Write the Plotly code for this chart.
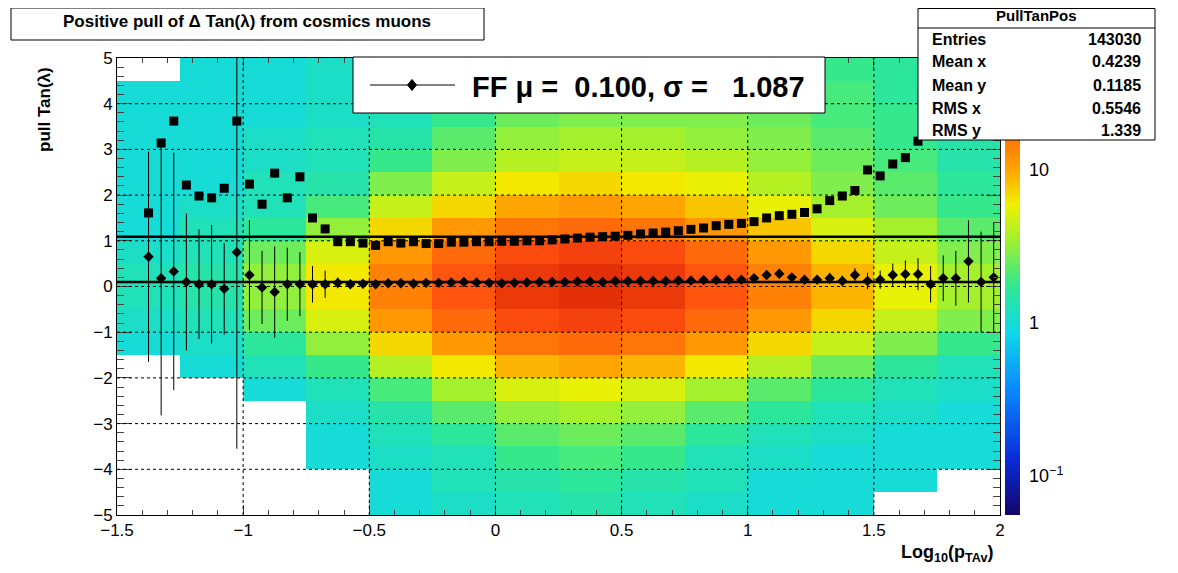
import numpy as np
import plotly.graph_objects as go

nan = None
# 2D histogram (log10 counts), coarse reading
hx = [-1.375,-1.125,-0.875,-0.625,-0.375,-0.125,0.125,0.375,0.625,0.875,1.125,1.375,1.625,1.875]
hy = [-4.75,-4.25,-3.75,-3.25,-2.75,-2.25,-1.75,-1.25,-0.75,-0.25,0.25,0.75,1.25,1.75,2.25,2.75,3.25,3.75,4.25,4.75]
hz = [
[nan,nan,nan,nan,0.0,0.05,0.1,0.15,0.1,0.05,0.0,0.0,nan,nan],
[nan,nan,nan,nan,0.0,0.1,0.15,0.2,0.15,0.1,0.0,0.0,0.0,nan],
[nan,nan,nan,0.0,0.05,0.1,0.25,0.3,0.25,0.1,0.05,0.0,0.0,0.0],
[nan,nan,nan,0.0,0.1,0.2,0.35,0.4,0.35,0.2,0.1,0.05,0.0,0.0],
[nan,nan,nan,0.05,0.15,0.35,0.5,0.55,0.5,0.35,0.2,0.1,0.05,0.0],
[nan,nan,0.0,0.1,0.3,0.55,0.7,0.75,0.7,0.55,0.35,0.2,0.1,0.05],
[nan,0.0,0.1,0.25,0.6,0.8,0.95,1.0,0.95,0.8,0.6,0.4,0.2,0.1],
[0.0,0.05,0.2,0.5,0.85,1.05,1.2,1.25,1.2,1.05,0.85,0.65,0.45,0.25],
[0.05,0.1,0.4,0.7,1.05,1.25,1.4,1.45,1.4,1.25,1.05,0.85,0.65,0.45],
[0.1,0.15,0.5,0.8,1.15,1.35,1.5,1.55,1.5,1.35,1.15,0.95,0.75,0.55],
[0.1,0.15,0.5,0.8,1.15,1.35,1.5,1.55,1.5,1.35,1.15,0.95,0.75,0.55],
[0.05,0.1,0.4,0.7,1.05,1.25,1.4,1.45,1.4,1.25,1.05,0.85,0.65,0.45],
[0.0,0.1,0.2,0.5,0.85,1.05,1.2,1.25,1.2,1.05,0.9,0.7,0.55,0.35],
[0.0,0.05,0.1,0.3,0.65,0.85,1.0,1.05,1.0,0.9,0.75,0.55,0.4,0.25],
[0.0,0.0,0.1,0.15,0.45,0.65,0.8,0.85,0.8,0.75,0.6,0.45,0.35,0.2],
[0.0,0.0,0.05,0.1,0.25,0.45,0.6,0.65,0.65,0.6,0.5,0.4,0.3,0.15],
[0.0,0.0,0.05,0.1,0.15,0.35,0.5,0.55,0.55,0.5,0.45,0.35,0.25,0.15],
[0.0,0.0,0.0,0.05,0.1,0.25,0.4,0.45,0.45,0.45,0.4,0.3,0.25,0.1],
[0.0,0.0,0.0,0.05,0.1,0.15,0.3,0.35,0.4,0.4,0.35,0.3,0.2,0.1],
[nan,0.0,0.0,0.05,0.1,0.1,0.25,0.3,0.35,0.35,0.3,0.25,0.2,0.1],
]

bin_x = [-1.375,-1.325,-1.275,-1.225,-1.175,-1.125,-1.075,-1.025,-0.975,-0.925,-0.875,-0.825,-0.775,-0.725,-0.675,
-0.625,-0.575,-0.525,-0.475,-0.425,-0.375,-0.325,-0.275,-0.225,-0.175,-0.125,-0.075,-0.025,0.025,0.075,0.125,0.175,0.225,0.275,0.325,0.375,0.425,0.475,0.525,0.575,0.625,0.675,0.725,0.775,0.825,0.875,0.925,0.975,
1.025,1.075,1.125,1.175,1.225,1.275,1.325,1.375,1.425,1.475,1.525,1.575,1.625,1.675,1.725,1.775,1.825,1.875,1.925,1.975]
sigma = [1.61,3.14,3.62,2.22,1.98,1.94,2.15,3.62,2.24,1.8,2.48,1.94,2.4,1.5,1.26,
0.98,0.98,0.95,0.9,0.98,0.95,0.98,0.94,0.94,0.97,0.97,0.98,0.98,0.99,0.99,1.0,1.0,1.02,1.04,1.06,1.08,1.09,1.1,1.12,1.15,1.17,1.19,1.22,1.25,1.28,1.33,1.36,1.38,
1.42,1.5,1.55,1.58,1.62,1.7,1.88,1.98,2.1,2.55,2.42,2.68,2.82,3.18,3.35,3.55,3.75,4.68,4.8,4.86]
mean = [0.65,0.18,0.33,0.1,0.05,0.05,-0.05,0.75,0.25,-0.02,-0.12,0.05,0.05,0.05,0.05,
0.08,0.05,0.06,0.05,0.07,0.07,0.06,0.08,0.08,0.09,0.1,0.09,0.08,0.07,0.08,0.09,0.1,0.1,0.1,0.11,0.11,0.1,0.12,0.12,0.12,0.12,0.12,0.13,0.13,0.14,0.14,0.15,0.15,
0.18,0.25,0.28,0.2,0.15,0.15,0.18,0.12,0.25,0.12,0.15,0.25,0.27,0.27,0.05,0.18,0.18,0.55,0.1,0.2]
mean_err = [2.3,3.0,2.6,1.5,1.2,1.3,1.0,4.3,1.2,0.8,1.0,0.8,0.7,0.4,0.3,
0.12,0.1,0.08,0.07,0.06,0.05,0.05,0.04,0.04,0.04,0.03,0.03,0.03,0.03,0.03,0.03,0.03,0.03,0.03,0.03,0.03,0.04,0.04,0.04,0.04,0.04,0.04,0.05,0.05,0.05,0.06,0.06,0.07,
0.07,0.08,0.08,0.09,0.1,0.1,0.12,0.12,0.15,0.18,0.2,0.25,0.3,0.35,0.4,0.5,0.6,0.9,1.1,1.2]
fit_mu, fit_sigma = 0.100, 1.087

cb_levels = [-1.255 + 0.02*i for i in range(150)]
zmin, zmax = -1.255, 1.73
cscale = [[0,'#14066a'],[0.12,'#0a2ad8'],[0.28,'#0a8cff'],[0.4,'#10d8e8'],[0.5,'#30e890'],
          [0.6,'#a0f030'],[0.68,'#f0f000'],[0.76,'#ffa000'],[0.88,'#ff5010'],[1,'#c81000']]

W, H, OFF = 1178, 573, 8   # page body margin shifts the figure by OFF px
def px(v): return (v - OFF) / W
def py(v): return 1 - (v - OFF) / H

fig = go.Figure()
fig.add_trace(go.Heatmap(x=hx, y=hy, z=hz, zmin=zmin, zmax=zmax, colorscale=cscale,
                         showscale=False, hoverongaps=False))
fig.add_trace(go.Heatmap(x=[0], y=cb_levels, z=[[v] for v in cb_levels], zmin=zmin, zmax=zmax,
                         colorscale=cscale, showscale=False, xaxis='x2', yaxis='y2'))
fig.add_trace(go.Scatter(x=[-1.5, 2], y=[fit_sigma, fit_sigma], mode='lines', line=dict(color='black', width=2.5)))
fig.add_trace(go.Scatter(x=[-1.5, 2], y=[fit_mu, fit_mu], mode='lines', line=dict(color='black', width=2.5)))
fig.add_trace(go.Scatter(x=bin_x, y=sigma, mode='markers', marker=dict(symbol='square', size=9, color='black')))
fig.add_trace(go.Scatter(x=bin_x, y=mean, mode='markers', marker=dict(symbol='diamond', size=8, color='black'),
                         error_y=dict(array=mean_err, color='black', thickness=1, width=0)))

XD = [px(117), px(1000)]
YD = [py(515), py(58)]
shapes = []
for gx in [-1, -0.5, 0, 0.5, 1, 1.5]:
    shapes.append(dict(type='line', xref='x', yref='paper', x0=gx, x1=gx, y0=YD[0], y1=YD[1],
                       line=dict(color='black', width=1, dash='dot'), layer='above'))
for gy in [-4, -3, -2, -1, 0, 1, 2, 3, 4]:
    shapes.append(dict(type='line', xref='paper', yref='y', x0=XD[0], x1=XD[1], y0=gy, y1=gy,
                       line=dict(color='black', width=1, dash='dot'), layer='above'))
def box(x0, y0, x1, y1):
    return dict(type='rect', xref='paper', yref='paper', x0=px(x0), x1=px(x1), y0=py(y1), y1=min(1, py(y0)),
                fillcolor='white', line=dict(color='black', width=1), layer='above')
shapes += [box(11, 3, 484, 40), box(353, 57, 825, 113), box(918, 8.5, 1155, 140)]
shapes.append(dict(type='line', xref='paper', yref='paper', x0=px(918), x1=px(1155), y0=py(28), y1=py(28),
                   line=dict(color='black', width=1), layer='above'))
shapes.append(dict(type='line', xref='paper', yref='paper', x0=px(370), x1=px(455), y0=py(85), y1=py(85),
                   line=dict(color='black', width=1), layer='above'))
cx, cy, dx, dy = px(412), py(85), 4.5 / W, 5.5 / H
shapes.append(dict(type='path', xref='paper', yref='paper', layer='above', fillcolor='black',
                   line=dict(color='black', width=1),
                   path=f'M {cx-dx} {cy} L {cx} {cy+dy} L {cx+dx} {cy} L {cx} {cy-dy} Z'))

F = 'Liberation Sans, Arial, sans-serif'
def ann(text, x, y, size=16, xa='left', **kw):
    return dict(text=text, x=px(x), y=py(y), xref='paper', yref='paper', showarrow=False,
                xanchor=xa, yanchor='middle', font=dict(family=F, size=size, color='black'), **kw)
anns = [ann('<b>Positive pull of Δ Tan(λ) from cosmics muons</b>', 247, 22, 17, 'center'),
        ann('<b>FF μ =  0.100, σ =   1.087</b>', 470, 87, 29),
        ann('<b>PullTanPos</b>', 1036, 16, 15, 'center'),
        ann('<b>pull Tan(λ)</b>', 45, 110, 17, 'center', textangle=-90),
        ann('<b>Log<sub>10</sub>(p<sub>TAv</sub>)</b>', 995, 553, 18, 'right')]
for i, (k, v) in enumerate([('Entries', '143030'), ('Mean x', '0.4239'), ('Mean y', '0.1185'),
                            ('RMS x', '0.5546'), ('RMS y', '1.339')]):
    anns.append(ann(f'<b>{k}</b>', 930, 39 + 23*i, 16))
    anns.append(ann(f'<b>{v}</b>', 1143, 39 + 23*i, 16, 'right'))

fig.update_layout(
    width=W, height=H, margin=dict(l=0, r=0, t=0, b=0), plot_bgcolor='white', paper_bgcolor='white',
    showlegend=False, shapes=shapes, annotations=anns, font=dict(family=F, color='black'),
    xaxis=dict(domain=XD, range=[-1.5, 2], ticks='inside', ticklen=10, showgrid=False,
               zeroline=False, tickvals=[-1.5, -1, -0.5, 0, 0.5, 1, 1.5, 2], automargin=False,
               ticktext=['−1.5', '−1', '−0.5', '0', '0.5', '1', '1.5', '2'],
               tickfont=dict(size=17, family=F), mirror='ticks', showline=True, linecolor='black',
               minor=dict(ticks='inside', ticklen=5, dtick=0.1)),
    yaxis=dict(domain=YD, range=[-5, 5], ticks='inside', ticklen=14, showgrid=False,
               zeroline=False, tickvals=list(range(-5, 6)), automargin=False,
               ticktext=['−5', '−4', '−3', '−2', '−1', '0', '1', '2', '3', '4', '5'],
               tickfont=dict(size=17, family=F), mirror='ticks', showline=True, linecolor='black',
               minor=dict(ticks='inside', ticklen=7, dtick=0.2)),
    xaxis2=dict(domain=[px(1005), px(1020)], anchor='y2', visible=False, range=[-0.5, 0.5]),
    yaxis2=dict(domain=YD, anchor='x2', side='right', range=[zmin, zmax], showgrid=False,
                zeroline=False, tickvals=[-1, 0, 1], ticktext=['10<sup>−1</sup>', '1', '10'], automargin=False,
                ticks='', tickfont=dict(size=18, family=F), ticklabelstandoff=8),
)
fig.write_html('out.html')
